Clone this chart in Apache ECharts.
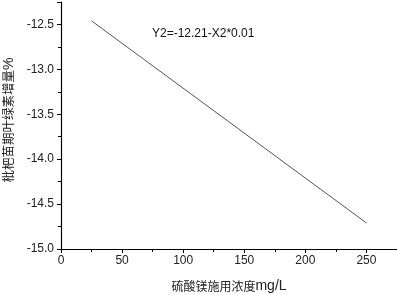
<!DOCTYPE html>
<html>
<head>
<meta charset="utf-8">
<script src="https://cdn.jsdelivr.net/npm/echarts@6/dist/echarts.min.js"></script>
<style>
  html, body { margin: 0; padding: 0; background: #fff; }
  #main { width: 397px; height: 295px; }
</style>
</head>
<body>
<div id="main"></div>
<script>
// 拟合直线端点
var xValues = [25, 250];
var yValues = [-12.46, -14.71];
var equationText = 'Y2=-12.21-X2*0.01';
var xTicks = [0, 50, 100, 150, 200, 250];
var yTicks = [-15.0, -14.5, -14.0, -13.5, -13.0, -12.5];

var myChart = echarts.init(document.getElementById('main'));

var cjk = '"Noto Sans CJK SC", sans-serif';
var latin = '"Liberation Sans", Arial, sans-serif';

myChart.setOption({
  animation: false,
  grid: { left: 61, right: 0, top: 2, bottom: 46, outerBoundsMode: 'none', containLabel: false },
  xAxis: {
    type: 'value',
    min: 0,
    max: 275,
    interval: 50,
    name: '{c|硫酸镁施用浓度}{l|mg/L}',
    nameLocation: 'middle',
    nameGap: 30,
    nameTextStyle: {
      color: '#222',
      rich: {
        c: { fontFamily: cjk, fontSize: 12, color: '#222' },
        l: { fontFamily: latin, fontSize: 14, color: '#222' }
      }
    },
    axisLine: { lineStyle: { color: '#000', width: 1.2 } },
    axisTick: { show: true, inside: false, length: 4, lineStyle: { color: '#000' } },
    minorTick: { show: true, splitNumber: 2, length: 3, lineStyle: { color: '#000' } },
    splitLine: { show: false },
    axisLabel: {
      margin: 6,
      fontFamily: latin,
      fontSize: 12,
      color: '#222',
      formatter: function (v) { return xTicks.indexOf(v) >= 0 ? String(v) : ''; }
    }
  },
  yAxis: {
    type: 'value',
    min: -15,
    max: -12.25,
    interval: 0.5,
    name: '{c|枇杷苗期叶绿素增量}{l|%}',
    nameLocation: 'middle',
    nameGap: 45,
    nameTextStyle: {
      color: '#222',
      padding: [0, 0, 0, 11],
      rich: {
        c: { fontFamily: cjk, fontSize: 12.5, color: '#222' },
        l: { fontFamily: latin, fontSize: 14, color: '#222' }
      }
    },
    axisLine: { lineStyle: { color: '#000', width: 1.2 } },
    axisTick: { show: true, inside: false, length: 4, lineStyle: { color: '#000' } },
    minorTick: { show: true, splitNumber: 2, length: 3, lineStyle: { color: '#000' } },
    splitLine: { show: false },
    axisLabel: {
      margin: 7,
      fontFamily: latin,
      fontSize: 12,
      color: '#222',
      formatter: function (v) {
        for (var i = 0; i < yTicks.length; i++) {
          if (Math.abs(yTicks[i] - v) < 1e-6) return v.toFixed(1);
        }
        return '';
      }
    }
  },
  graphic: [{
    type: 'text',
    left: 152,
    top: 28,
    style: { text: equationText, font: '12px "Liberation Sans", Arial, sans-serif', fill: '#111' }
  }],
  series: [{
    type: 'line',
    data: xValues.map(function (x, i) { return [x, yValues[i]]; }),
    symbol: 'none',
    lineStyle: { color: '#555', width: 1 }
  }]
});
</script>
</body>
</html>
